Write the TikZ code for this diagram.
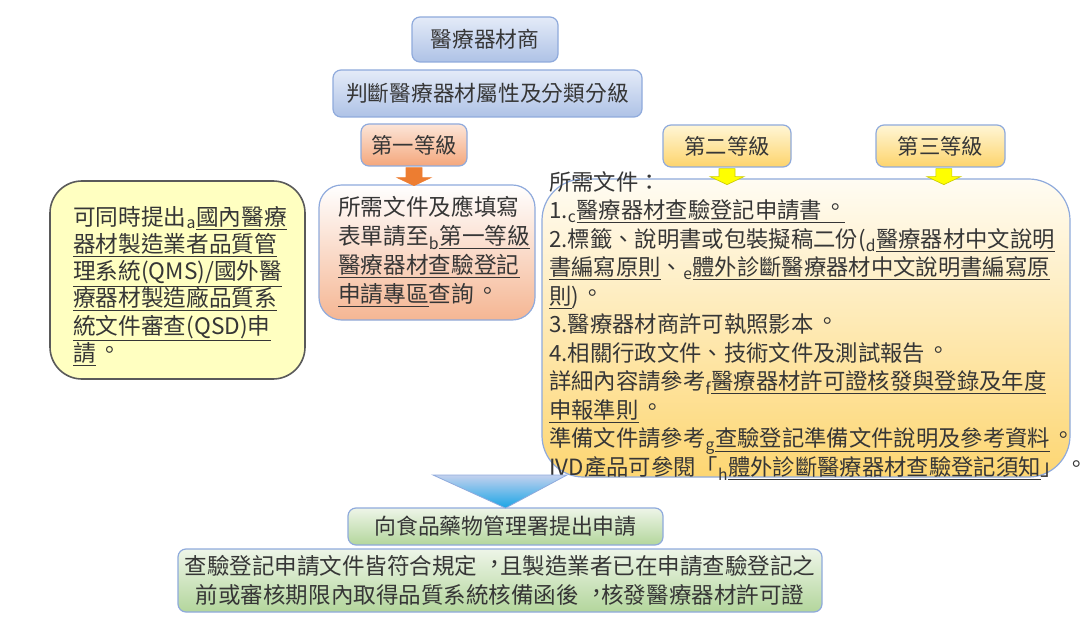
\documentclass[tikz,border=0pt]{standalone}
\usepackage{fontspec}
\setmainfont{Noto Sans CJK TC}
\usetikzlibrary{positioning}

\definecolor{txtgray}{HTML}{363636}
\definecolor{boxline}{HTML}{8FAADC}
\definecolor{bluetop}{HTML}{E4EBF8}
\definecolor{bluebot}{HTML}{AEC2E6}
\definecolor{orgtop}{HTML}{FCE5D8}
\definecolor{orgbot}{HTML}{F4A77C}
\definecolor{orgarrow}{HTML}{ED7D31}
\definecolor{salmonbot}{HTML}{F5B693}
\definecolor{paleyellow}{HTML}{FFFFC1}
\definecolor{darkline}{HTML}{5A5A5A}
\definecolor{goldtop}{HTML}{FFF6D6}
\definecolor{goldbot}{HTML}{FDD46C}
\definecolor{creamtop}{HTML}{FFFCF3}
\definecolor{creammid}{HTML}{FEEBB4}
\definecolor{creambot}{HTML}{FDD672}
\definecolor{yelarrow}{HTML}{FFFF00}
\definecolor{triatop}{HTML}{C3D1EE}
\definecolor{triabot}{HTML}{19A5E6}
\definecolor{greentop}{HTML}{EEF5E8}
\definecolor{greenbot}{HTML}{B3D69C}

\newcommand{\lnk}[1]{\underline{#1}}
\newcommand{\refmk}[1]{\textsubscript{#1}}
% Taiwan style punctuation, centred in its cell
\newcommand{\tcstop}{\makebox[1em][l]{\hspace*{0.12em}\raisebox{0.14em}{\makebox[0.88em][l]{。}}}}
\newcommand{\tccomma}{\makebox[1em][l]{\hspace*{0.28em}\raisebox{0.08em}{\makebox[0.72em][l]{，}}}}

\begin{document}
\begin{tikzpicture}[x=0.75pt,y=-0.75pt]
	\tikzset{box/.style = {shape=rectangle, draw=boxline, line width=0.9pt,
			rounded corners=6pt, text=txtgray, inner sep=0pt}}
	\tikzset{headbox/.style = {box, top color=bluetop, bottom color=bluebot,
			font=\fontsize{16.3}{20}\selectfont}}
	\tikzset{lvlone/.style = {box, top color=orgtop, bottom color=orgbot,
			font=\fontsize{16}{20}\selectfont}}
	\tikzset{lvlgold/.style = {box, top color=goldtop, bottom color=goldbot,
			font=\fontsize{16}{20}\selectfont}}
	\tikzset{greenbox/.style = {box, top color=greentop, bottom color=greenbot}}
	\tikzset{plaintext/.style = {text=txtgray, inner sep=0pt, align=left}}
	\tikzset{blockarrow/.style = {line width=0.5pt, line join=miter}}

	\useasboundingbox (0,0) rectangle (1092,624);

	% top of the chart
	\node[headbox, minimum width=109.5pt, minimum height=33.75pt] (firm) at (485,39.5) {醫療器材商};
	\node[headbox, minimum width=231.75pt, minimum height=35.25pt] (judge) at (487.5,93.5) {判斷醫療器材屬性及分類分級};

	% class boxes
	\node[lvlone, minimum width=79.5pt, minimum height=31.5pt] (lv1) at (414,145) {第一等級};
	\node[lvlgold, minimum width=96pt, minimum height=31.5pt] (lv2) at (727,146) {第二等級};
	\node[lvlgold, minimum width=96.75pt, minimum height=31.5pt] (lv3) at (940.5,146) {第三等級};

	% document boxes
	\node[box, draw=darkline, line width=1.2pt, fill=paleyellow, rounded corners=24pt,
		minimum width=191.25pt, minimum height=148.5pt] (qms) at (177.5,280) {};
	\node[box, rounded corners=17pt, top color=white, bottom color=salmonbot,
		minimum width=162pt, minimum height=101.25pt] (doc1) at (427,252.5) {};
	\node[box, rounded corners=31pt, top color=creamtop, middle color=creammid, bottom color=creambot,
		minimum width=396pt, minimum height=223.5pt] (doc23) at (806,328) {};

	\node[plaintext, anchor=north west, font=\fontsize{17}{20.4}\selectfont] (qmstext) at (73,206)
		{可同時提出\refmk{a}\lnk{國內醫療}\\
		\lnk{器材製造業者品質管}\\
		\lnk{理系統(QMS)/國外醫}\\
		\lnk{療器材製造廠品質系}\\
		\lnk{統文件審查(QSD)申}\\
		\lnk{請}\tcstop};
	\node[plaintext, anchor=north west, font=\fontsize{17}{21.75}\selectfont] (doc1text) at (338,196)
		{所需文件及應填寫\\
		表單請至\refmk{b}\lnk{第一等級}\\
		\lnk{醫療器材查驗登記}\\
		\lnk{申請專區}查詢\tcstop};
	\node[plaintext, anchor=north west, font=\fontsize{16.75}{21.4}\selectfont] (doc23text) at (549,171)
		{所需文件：\\
		1.\refmk{c}\lnk{醫療器材查驗登記申請書\tcstop}\\
		2.標籤、說明書或包裝擬稿二份(\refmk{d}\lnk{醫療器材中文說明}\\
		\lnk{書編寫原則}、\refmk{e}\lnk{體外診斷醫療器材中文說明書編寫原}\\
		\lnk{則})\tcstop\\
		3.醫療器材商許可執照影本\tcstop\\
		4.相關行政文件、技術文件及測試報告\tcstop\\
		詳細內容請參考\refmk{f}\lnk{醫療器材許可證核發與登錄及年度}\\
		\lnk{申報準則}\tcstop\\
		準備文件請參考\refmk{g}\lnk{查驗登記準備文件說明及參考資料}\tcstop\\
		IVD產品可參閱「\refmk{h}\lnk{體外診斷醫療器材查驗登記須知}」\tcstop};

	% arrows below the class boxes
	\draw[blockarrow, draw=orgarrow, fill=orgarrow] (lv1.south) ++(-8,1) -- ++(0,10) -- ++(-9,0)
		-- ++(17,8) -- ++(17,-8) -- ++(-9,0) -- ++(0,-10) -- cycle;
	\draw[blockarrow, draw=yelarrow!80!black, fill=yelarrow] (lv2.south) ++(-8,1) -- ++(0,8) -- ++(-9,0)
		-- ++(17,8) -- ++(17,-8) -- ++(-9,0) -- ++(0,-8) -- cycle;
	\draw[blockarrow, draw=yelarrow!80!black, fill=yelarrow] ([xshift=2.5pt]lv3.south) ++(-8,1) -- ++(0,8) -- ++(-9,0)
		-- ++(17,8) -- ++(17,-8) -- ++(-9,0) -- ++(0,-8) -- cycle;

	% submission
	\node[greenbox, minimum width=236.25pt, minimum height=27.75pt,
		font=\fontsize{16.4}{20}\selectfont] (fda) at (505.5,526.5) {向食品藥物管理署提出申請};
	\node[greenbox, minimum width=483pt, minimum height=47.25pt, align=center,
		font=\fontsize{16.9}{21.75}\selectfont] (permit) at (500,580.5)
		{查驗登記申請文件皆符合規定\tccomma 且製造業者已在申請查驗登記之\\
		前或審核期限內取得品質系統核備函後\tccomma 核發醫療器材許可證};

	% funnel triangle
	\coordinate (funl) at (433,475);
	\coordinate (funr) at (567,475);
	\coordinate (funtip) at ([yshift=-0.5pt]fda.north);
	\shade[top color=triatop, bottom color=triabot, draw=boxline, line width=0.6pt]
		(funl) -- (funr) -- (funtip) -- cycle;
\end{tikzpicture}
\end{document}
